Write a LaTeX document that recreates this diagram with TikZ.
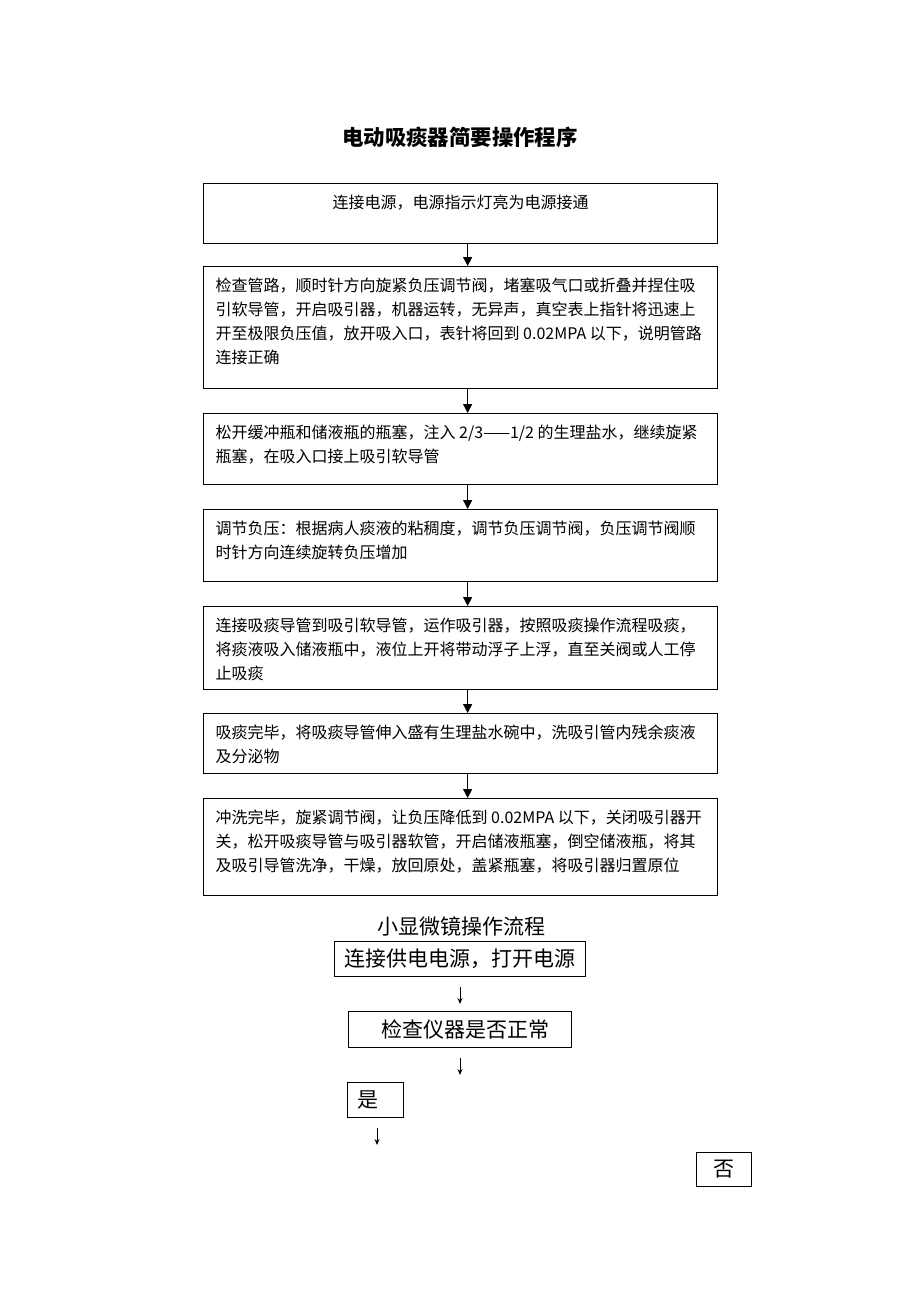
\documentclass[tikz,border=0pt]{standalone}
\usepackage{fontspec}
\setmainfont{Noto Sans CJK SC}
\usetikzlibrary{arrows.meta}

% testo di un passo: riga iniziale abbassata, a capo manuali
\newcommand{\steptext}[2]{\parbox[t][#1][t]{490pt}{\rule{0pt}{25pt}#2}}

\begin{document}
\begin{tikzpicture}[x=1pt, y=-1pt,
    step_box/.style={rectangle, draw=black, line width=1.3pt, anchor=north west, inner xsep=12pt, inner ysep=0pt, font=\fontsize{16}{24}\selectfont},
    flow_link/.style={draw=black, line width=1.5pt, -{Triangle[width=9pt,length=9pt]}},
    small_box/.style={rectangle, draw=black, line width=0.9pt, inner sep=0pt, font=\fontsize{21}{24}\selectfont},
    small_link/.style={draw=black, line width=0.9pt, -{Stealth[width=5pt,length=6pt]}} % frecce sottili
]
\useasboundingbox (0,0) rectangle (920,1302);

\node[font=\fontsize{21.4}{24}\selectfont\bfseries] (title) at (460,137) {电动吸痰器简要操作程序};

\node[step_box] (power) at (203,183) {\steptext{60pt}{\centering 连接电源，电源指示灯亮为电源接通}};
\node[step_box] (pipes) at (203,266) {\steptext{122pt}{检查管路，顺时针方向旋紧负压调节阀，堵塞吸气口或折叠并捏住吸\\
引软导管，开启吸引器，机器运转，无异声，真空表上指针将迅速上\\
开至极限负压值，放开吸入口，表针将回到 0.02MPA 以下，说明管路\\
连接正确}};
\node[step_box] (bottles) at (203,413) {\steptext{71pt}{松开缓冲瓶和储液瓶的瓶塞，注入 2/3——1/2 的生理盐水，继续旋紧\\
瓶塞，在吸入口接上吸引软导管}};
\node[step_box] (pressure) at (203,509) {\steptext{72pt}{调节负压：根据病人痰液的粘稠度，调节负压调节阀，负压调节阀顺\\
时针方向连续旋转负压增加}};
\node[step_box] (suction) at (203,606) {\steptext{83pt}{连接吸痰导管到吸引软导管，运作吸引器，按照吸痰操作流程吸痰，\\
将痰液吸入储液瓶中，液位上开将带动浮子上浮，直至关阀或人工停\\
止吸痰}};
\node[step_box] (rinse) at (203,713) {\steptext{60pt}{吸痰完毕，将吸痰导管伸入盛有生理盐水碗中，洗吸引管内残余痰液\\
及分泌物}};
\node[step_box] (cleanup) at (203,798) {\steptext{97pt}{冲洗完毕，旋紧调节阀，让负压降低到 0.02MPA 以下，关闭吸引器开\\
关，松开吸痰导管与吸引器软管，开启储液瓶塞，倒空储液瓶，将其\\
及吸引导管洗净，干燥，放回原处，盖紧瓶塞，将吸引器归置原位}};

\foreach \from/\to in {power/pipes, pipes/bottles, bottles/pressure, pressure/suction, suction/rinse, rinse/cleanup}
    \draw[flow_link] ([xshift=7pt]\from.south) -- ([xshift=7pt]\to.north);

% secondo schema
\node[font=\fontsize{21}{24}\selectfont] (scope_title) at (461,926) {小显微镜操作流程};
\node[small_box, minimum width=251pt, minimum height=35pt] (supply) at (459.5,958.5) {连接供电电源，打开电源};
\node[small_box, minimum width=223pt, minimum height=36pt] (inspect) at (459.5,1029) {\hspace*{12pt}检查仪器是否正常};
\node[small_box, minimum width=56pt, minimum height=35pt] (yes) at (375,1099.5) {是\hspace*{14pt}};
\node[small_box, minimum width=55pt, minimum height=34pt] (no) at (723.5,1169) {否};

\coordinate (supply_out) at (460,987);
\coordinate (inspect_in) at (460,1004);
\coordinate (inspect_out) at (460,1058);
\coordinate (result_in) at (460,1075);
\coordinate (yes_out) at (377,1128);
\coordinate (yes_next) at (377,1145);
\draw[small_link] (supply_out) -- (inspect_in);
\draw[small_link] (inspect_out) -- (result_in);
\draw[small_link] (yes_out) -- (yes_next);
\end{tikzpicture}
\end{document}
